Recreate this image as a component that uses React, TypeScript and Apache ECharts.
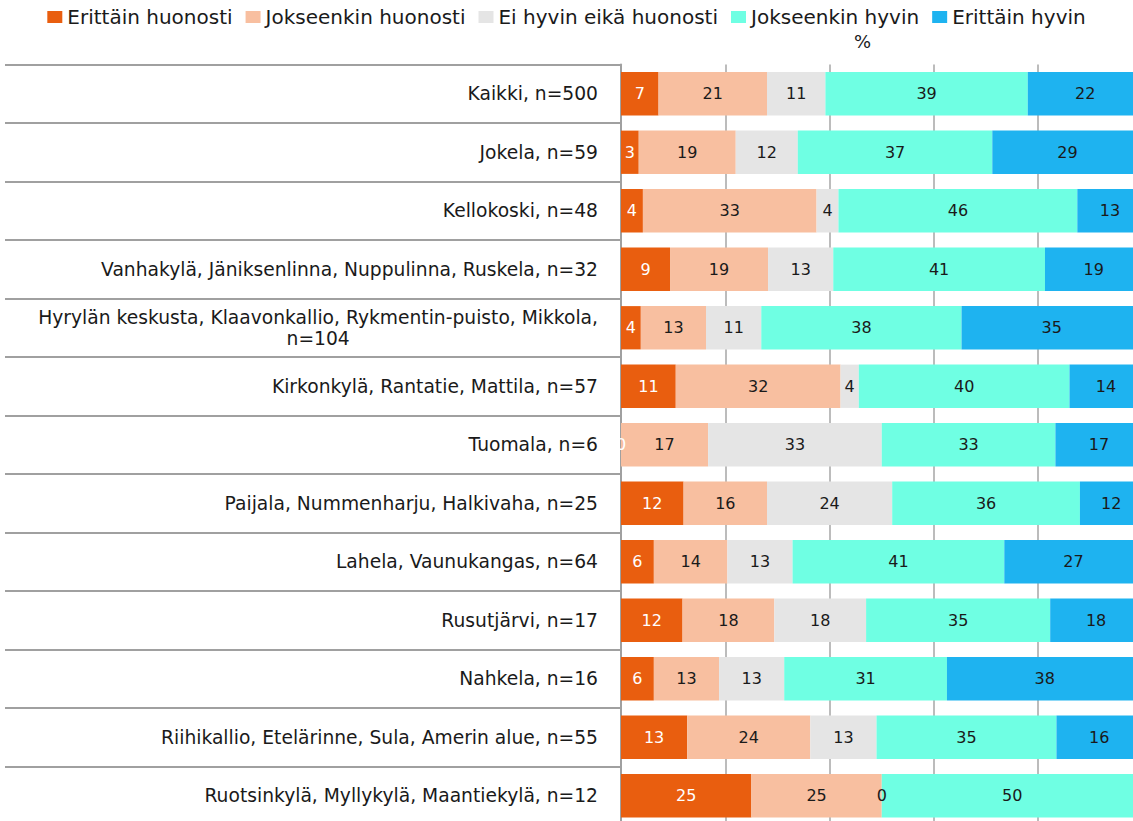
import React, { useEffect, useRef } from "react";
import * as echarts from "echarts";

const categories = [
  "Kaikki, n=500",
  "Jokela, n=59",
  "Kellokoski, n=48",
  "Vanhakylä, Jäniksenlinna, Nuppulinna, Ruskela, n=32",
  "Hyrylän keskusta, Klaavonkallio, Rykmentin-puisto, Mikkola,\nn=104",
  "Kirkonkylä, Rantatie, Mattila, n=57",
  "Tuomala, n=6",
  "Paijala, Nummenharju, Halkivaha, n=25",
  "Lahela, Vaunukangas, n=64",
  "Rusutjärvi, n=17",
  "Nahkela, n=16",
  "Riihikallio, Etelärinne, Sula, Amerin alue, n=55",
  "Ruotsinkylä, Myllykylä, Maantiekylä, n=12",
];

const seriesNames = [
  "Erittäin huonosti",
  "Jokseenkin huonosti",
  "Ei hyvin eikä huonosti",
  "Jokseenkin hyvin",
  "Erittäin hyvin",
];

const erittainHuonosti = [7.2, 3.4, 4.2, 9.4, 3.8, 10.5, 0, 12, 6.3, 11.8, 6.3, 12.7, 25];
const jokseenkinHuonosti = [20.8, 18.6, 33.3, 18.8, 12.5, 31.6, 16.7, 16, 14.1, 17.6, 12.5, 23.6, 25];
const eiHyvinEikaHuonosti = [11.2, 11.9, 4.2, 12.5, 10.6, 3.5, 33.3, 24, 12.5, 17.6, 12.5, 12.7, 0];
const jokseenkinHyvin = [38.8, 37.3, 45.8, 40.6, 38.4, 40.4, 33.3, 36, 40.6, 35.3, 31.2, 34.5, 50];
const erittainHyvin = [22.0, 28.8, 12.5, 18.8, 34.6, 14.0, 16.7, 12, 26.6, 17.6, 37.5, 16.4, 0];

const seriesValues = [
  erittainHuonosti,
  jokseenkinHuonosti,
  eiHyvinEikaHuonosti,
  jokseenkinHyvin,
  erittainHyvin,
];

const colors = ["#E95E0F", "#F8BFA0", "#E5E5E5", "#6FFFE3", "#1EB3F0"];
const labelColors = ["#FFFFFF", "#1A1A1A", "#1A1A1A", "#1A1A1A", "#1A1A1A"];

const FONT = "DejaVu Sans";

export default function App() {
  const ref = useRef<HTMLDivElement>(null);

  useEffect(() => {
    document.body.style.margin = "0";
    if (!ref.current) return;
    const chart = echarts.init(ref.current, null, { renderer: "svg" });
    chart.setOption({
      animation: false,
      backgroundColor: "#FFFFFF",
      title: {
        text: "%",
        left: 854,
        top: 32,
        padding: 0,
        textStyle: { fontFamily: FONT, fontSize: 18, fontWeight: "normal", color: "#1A1A1A" },
      },
      legend: {
        data: seriesNames,
        top: 7,
        left: "center",
        padding: 0,
        itemWidth: 15,
        itemHeight: 12,
        itemGap: 13,
        icon: "rect",
        textStyle: { fontFamily: FONT, fontSize: 20, color: "#1A1A1A" },
      },
      grid: {
        left: 621,
        top: 64.5,
        width: 521.5,
        height: 760.5,
        outerBoundsMode: "none",
        containLabel: false,
      },
      xAxis: {
        type: "value",
        min: 0,
        max: 100,
        interval: 20,
        axisLabel: { show: false },
        axisLine: { show: false },
        axisTick: { show: false },
        splitLine: { show: true, lineStyle: { color: "#A6A6A6", width: 1.5 } },
      },
      yAxis: {
        type: "category",
        inverse: true,
        data: categories,
        axisLine: { show: true, lineStyle: { color: "#A0A0A0", width: 2 } },
        axisTick: {
          show: true,
          length: 616,
          interval: 0,
          lineStyle: { color: "#A0A0A0", width: 2 },
        },
        axisLabel: {
          margin: 23,
          interval: 0,
          fontFamily: FONT,
          fontSize: 18.7,
          color: "#1A1A1A",
          lineHeight: 21,
          formatter: (v: string) =>
            v.includes("\n")
              ? v
                  .split("\n")
                  .map((l) => `{c|${l}}`)
                  .join("\n")
              : v,
          rich: {
            c: { align: "center", fontFamily: FONT, fontSize: 18.7, color: "#1A1A1A", lineHeight: 21 },
          },
        },
      },
      series: seriesNames.map((name, i) => ({
        name,
        type: "bar",
        stack: "total",
        barCategoryGap: "26%",
        data: seriesValues[i],
        itemStyle: { color: colors[i] },
        label: {
          show: true,
          position: "inside",
          fontFamily: FONT,
          fontSize: 16,
          color: labelColors[i],
          formatter: (p: any) => String(Math.round(p.value)),
        },
      })),
    });
    return () => chart.dispose();
  }, []);

  return <div ref={ref} style={{ width: 1133, height: 821 }} />;
}
